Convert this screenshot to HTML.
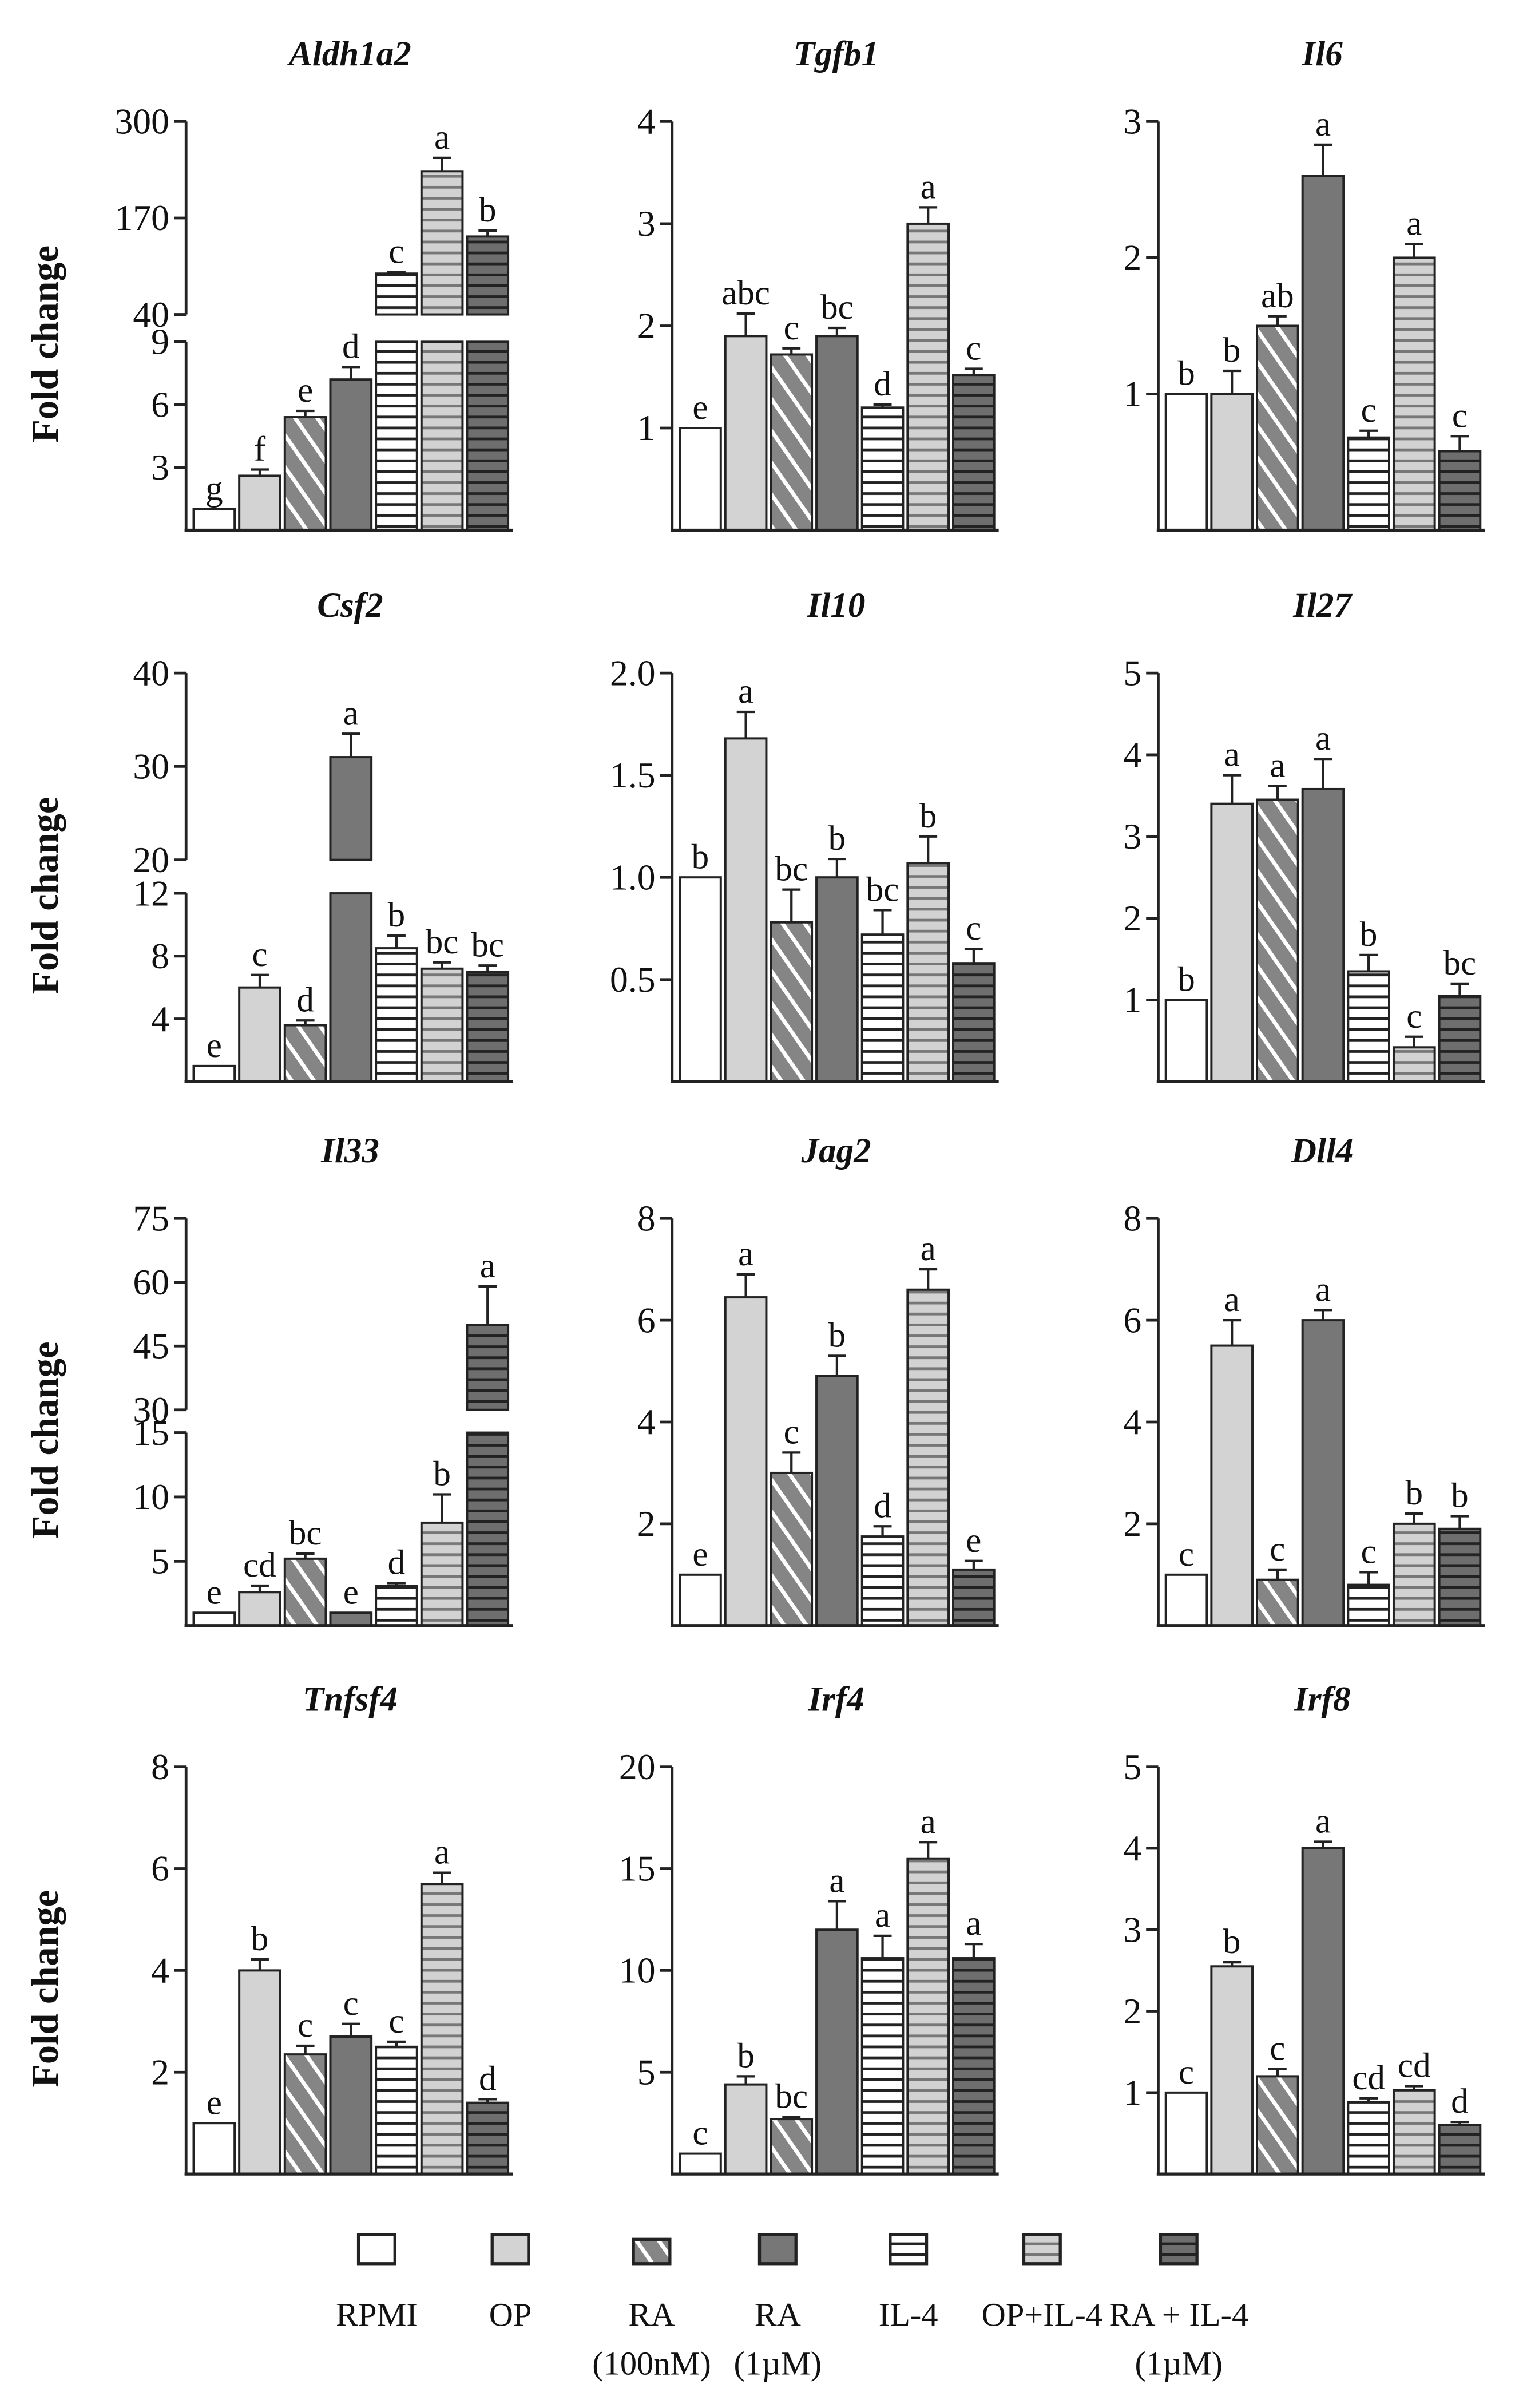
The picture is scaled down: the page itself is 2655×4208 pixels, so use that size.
<!DOCTYPE html>
<html><head><meta charset="utf-8"><style>
html,body{margin:0;padding:0;background:#fff;}
svg{display:block;}
svg text{font-family:"Liberation Serif","DejaVu Serif",serif !important;fill:#111;}
</style></head><body>
<svg id="fig" xmlns="http://www.w3.org/2000/svg" width="2655" height="4208" viewBox="0 0 1000 1585" preserveAspectRatio="none" font-family="Liberation Serif, serif">
<defs>
<pattern id="pDiag" patternUnits="userSpaceOnUse" width="12" height="12" patternTransform="rotate(-35)">
<rect width="12" height="12" fill="#858585"/><rect x="0" y="0" width="2.6" height="12" fill="#fff"/></pattern>
<pattern id="pIL4" patternUnits="userSpaceOnUse" width="10" height="7.2">
<rect width="10" height="7.2" fill="#fff"/><rect y="0" width="10" height="1.8" fill="#222"/></pattern>
<pattern id="pOPIL4" patternUnits="userSpaceOnUse" width="10" height="7.2">
<rect width="10" height="7.2" fill="#d2d2d2"/><rect y="0" width="10" height="1.8" fill="#777"/></pattern>
<pattern id="pRAIL4" patternUnits="userSpaceOnUse" width="10" height="7.2">
<rect width="10" height="7.2" fill="#6e6e6e"/><rect y="0" width="10" height="1.8" fill="#222"/></pattern>
</defs>
</svg>
<script>
// ---- data ----
const groups = ["RPMI","OP","RA (100nM)","RA (1µM)","IL-4","OP+IL-4","RA + IL-4 (1µM)"];
const aldhValues = [1.0, 2.6, 5.4, 7.2, 95, 233, 145];
const aldhErr = [1.0, 2.9, 5.7, 7.8, 97, 251, 153];
const aldhLetters = ["g","f","e","d","c","a","b"];
const tgfbValues = [1.0, 1.9, 1.72, 1.9, 1.2, 3.0, 1.52];
const tgfbErr = [1.0, 2.12, 1.78, 1.98, 1.23, 3.16, 1.58];
const tgfbLetters = ["e","abc","c","bc","d","a","c"];
const il6Values = [1.0, 1.0, 1.5, 2.6, 0.68, 2.0, 0.58];
const il6Err = [1.0, 1.17, 1.57, 2.83, 0.73, 2.1, 0.69];
const il6Letters = ["b","b","ab","a","c","a","c"];
const csf2Values = [1.0, 6.0, 3.6, 31, 8.5, 7.2, 7.0];
const csf2Err = [1.0, 6.8, 3.9, 33.5, 9.3, 7.6, 7.4];
const csf2Letters = ["e","c","d","a","b","bc","bc"];
const il10Values = [1.0, 1.68, 0.78, 1.0, 0.72, 1.07, 0.58];
const il10Err = [1.0, 1.81, 0.94, 1.09, 0.84, 1.2, 0.65];
const il10Letters = ["b","a","bc","b","bc","b","c"];
const il27Values = [1.0, 3.4, 3.45, 3.58, 1.35, 0.42, 1.05];
const il27Err = [1.0, 3.75, 3.62, 3.95, 1.55, 0.55, 1.2];
const il27Letters = ["b","a","a","a","b","c","bc"];
const il33Values = [1.0, 2.6, 5.2, 1.0, 3.1, 8.0, 50];
const il33Err = [1.0, 3.1, 5.6, 1.0, 3.3, 10.2, 59];
const il33Letters = ["e","cd","bc","e","d","b","a"];
const jag2Values = [1.0, 6.45, 3.0, 4.9, 1.75, 6.6, 1.1];
const jag2Err = [1.0, 6.9, 3.4, 5.3, 1.95, 7.0, 1.27];
const jag2Letters = ["e","a","c","b","d","a","e"];
const dll4Values = [1.0, 5.5, 0.9, 6.0, 0.8, 2.0, 1.9];
const dll4Err = [1.0, 6.0, 1.1, 6.2, 1.05, 2.2, 2.15];
const dll4Letters = ["c","a","c","a","c","b","b"];
const tnfValues = [1.0, 4.0, 2.35, 2.7, 2.5, 5.7, 1.4];
const tnfErr = [1.0, 4.22, 2.52, 2.95, 2.6, 5.92, 1.47];
const tnfLetters = ["e","b","c","c","c","a","d"];
const irf4Values = [1.0, 4.4, 2.7, 12.0, 10.6, 15.5, 10.6];
const irf4Err = [1.0, 4.8, 2.8, 13.4, 11.7, 16.3, 11.3];
const irf4Letters = ["c","b","bc","a","a","a","a"];
const irf8Values = [1.0, 2.55, 1.2, 4.0, 0.88, 1.03, 0.6];
const irf8Err = [1.0, 2.6, 1.29, 4.08, 0.93, 1.08, 0.64];
const irf8Letters = ["c","b","c","a","cd","cd","d"];
const aldhTicksLow = [3,6,9], aldhTicksHigh = [40,170,300];
const tgfbTicks = [1,2,3,4], il6Ticks = [1,2,3];
const csf2TicksLow = [4,8,12], csf2TicksHigh = [20,30,40];
const il10Ticks = [0.5,1.0,1.5,2.0], il10TickLabels = ["0.5","1.0","1.5","2.0"];
const il27Ticks = [1,2,3,4,5];
const il33TicksLow = [5,10,15], il33TicksHigh = [30,45,60,75];
const jag2Ticks = [2,4,6,8], dll4Ticks = [2,4,6,8], tnfTicks = [2,4,6,8];
const irf4Ticks = [5,10,15,20], irf8Ticks = [1,2,3,4,5];

// ---- layout ----
const FONT = '"Liberation Serif", serif';
const colX = [122.5, 442.5, 762.5];
const rowTop = [80, 443, 802, 1163];
const rowBot = [349, 712, 1070, 1431];
const fills = ["#fff","#d3d3d3","url(#pDiag)","#777","url(#pIL4)","url(#pOPIL4)","url(#pRAIL4)"];
const svg = document.getElementById('fig');
const NS = "http://www.w3.org/2000/svg";
function mk(tag, attrs, parent){
  const e = document.createElementNS(NS, tag);
  for (const k in attrs) e.setAttribute(k, attrs[k]);
  if (tag === 'text') e.setAttribute('font-family', FONT);
  (parent||svg).appendChild(e); return e;
}

const panels = [
 {t:"Aldh1a2",c:0,r:0,v:aldhValues,e:aldhErr,l:aldhLetters,segs:[{lo:0,hi:9,ticks:aldhTicksLow,yb:349,yt:225},{lo:40,hi:300,ticks:aldhTicksHigh,yb:207,yt:80}]},
 {t:"Tgfb1",c:1,r:0,v:tgfbValues,e:tgfbErr,l:tgfbLetters,segs:[{lo:0,hi:4,ticks:tgfbTicks}]},
 {t:"Il6",c:2,r:0,v:il6Values,e:il6Err,l:il6Letters,segs:[{lo:0,hi:3,ticks:il6Ticks}]},
 {t:"Csf2",c:0,r:1,v:csf2Values,e:csf2Err,l:csf2Letters,segs:[{lo:0,hi:12,ticks:csf2TicksLow,yb:712,yt:588},{lo:20,hi:40,ticks:csf2TicksHigh,yb:566,yt:443}]},
 {t:"Il10",c:1,r:1,v:il10Values,e:il10Err,l:il10Letters,segs:[{lo:0,hi:2,ticks:il10Ticks,labels:il10TickLabels}]},
 {t:"Il27",c:2,r:1,v:il27Values,e:il27Err,l:il27Letters,segs:[{lo:0,hi:5,ticks:il27Ticks}]},
 {t:"Il33",c:0,r:2,v:il33Values,e:il33Err,l:il33Letters,segs:[{lo:0,hi:15,ticks:il33TicksLow,yb:1070,yt:943},{lo:30,hi:75,ticks:il33TicksHigh,yb:928,yt:802}]},
 {t:"Jag2",c:1,r:2,v:jag2Values,e:jag2Err,l:jag2Letters,segs:[{lo:0,hi:8,ticks:jag2Ticks}]},
 {t:"Dll4",c:2,r:2,v:dll4Values,e:dll4Err,l:dll4Letters,segs:[{lo:0,hi:8,ticks:dll4Ticks}]},
 {t:"Tnfsf4",c:0,r:3,v:tnfValues,e:tnfErr,l:tnfLetters,segs:[{lo:0,hi:8,ticks:tnfTicks}]},
 {t:"Irf4",c:1,r:3,v:irf4Values,e:irf4Err,l:irf4Letters,segs:[{lo:0,hi:20,ticks:irf4Ticks}]},
 {t:"Irf8",c:2,r:3,v:irf8Values,e:irf8Err,l:irf8Letters,segs:[{lo:0,hi:5,ticks:irf8Ticks}]}
];

function segY(s, v){ return s.yb - (v - s.lo) / (s.hi - s.lo) * (s.yb - s.yt); }
function yOf(p, v){
  for (const s of p.segs) if (v >= s.lo && v <= s.hi) return segY(s, v);
  return segY(p.segs[p.segs.length-1], v);
}

panels.forEach(p => {
  const ax = colX[p.c];
  p.segs.forEach(s => { if (s.yb === undefined){ s.yb = rowBot[p.r]; s.yt = rowTop[p.r]; } });
  const g = mk('g', {});
  
  
  const title = mk('text', {x: ax + 108, y: rowTop[p.r] - 37, 'text-anchor':'middle', 'font-size':23, 'font-weight':'bold', 'font-style':'italic'}, g);
  title.textContent = p.t;
  
  
  p.segs.forEach(s => {
    const al = mk('line', {x1:ax, x2:ax, y1:s.yb, y2:s.yt, stroke:'#222', 'stroke-width':1.8}, g);
    
    
    s.ticks.forEach((t, i) => {
      const y = segY(s, t);
      mk('line', {x1:ax-8, x2:ax, y1:y, y2:y, stroke:'#222', 'stroke-width':1.8}, g);
      const tl = mk('text', {x: ax-11, y: y+8, 'text-anchor':'end', 'font-size':24}, g);
      tl.textContent = s.labels ? s.labels[i] : String(t);
      
      
    });
  });
  p.v.forEach((v, i) => {
    const x = ax + 5 + 30 * i, w = 27;
    const base = rowBot[p.r];
    if (p.segs.length > 1 && v > p.segs[0].hi) {
      const lo = p.segs[0], hi = p.segs[1];
      const b1 = mk('rect', {x:x, y:lo.yt, width:w, height:base-lo.yt, fill:fills[i], stroke:'#222', 'stroke-width':1.5}, g);
      
      
      const yt = yOf(p, v);
      const b2 = mk('rect', {x:x, y:yt, width:w, height:hi.yb-yt, fill:fills[i], stroke:'#222', 'stroke-width':1.5}, g);
      
      
    } else {
      const yt = yOf(p, v);
      const b = mk('rect', {x:x, y:yt, width:w, height:base-yt, fill:fills[i], stroke:'#222', 'stroke-width':1.5}, g);
      
      
    }
    const yv = yOf(p, v), ye = yOf(p, p.e[i]), cx = x + w/2;
    if (ye < yv - 0.5) {
      mk('line', {x1:cx, x2:cx, y1:yv, y2:ye, stroke:'#222', 'stroke-width':1.6}, g);
      mk('line', {x1:cx-6, x2:cx+6, y1:ye, y2:ye, stroke:'#222', 'stroke-width':1.6}, g);
    }
    const lt = mk('text', {x:cx, y:ye-6, 'text-anchor':'middle', 'font-size':23}, g);
    lt.textContent = p.l[i];
    
    
  });
  const bl = mk('line', {x1:ax-1, x2:ax+215, y1:rowBot[p.r], y2:rowBot[p.r], stroke:'#222', 'stroke-width':2}, g);
  
  
  if (p.c === 0) {
    const cy = (rowTop[p.r] + rowBot[p.r]) / 2 + 12;
    const yl = mk('text', {x:38, y:cy, 'text-anchor':'middle', 'font-size':25, 'font-weight':'bold', transform:'rotate(-90 38 '+cy+')'}, g);
    yl.textContent = 'Fold change';
    
    
  }
});

const legX = [248, 336, 429, 512, 598, 686, 776];
const legL1 = ["RPMI","OP","RA","RA","IL-4","OP+IL-4","RA + IL-4"];
const legL2 = ["","","(100nM)","(1µM)","","","(1µM)"];
const lg = mk('g', {});


legX.forEach((x, i) => {
  const e = mk('g', {}, lg);
  
  
  mk('rect', {x:x-12, y:i===2?1474:1471, width:24, height:i===2?16:19, fill:fills[i], stroke:'#222', 'stroke-width':2}, e);
  const t1 = mk('text', {x:x, y:1531, 'text-anchor':'middle', 'font-size':22}, e);
  t1.textContent = legL1[i];
  if (legL2[i]) {
    const t2 = mk('text', {x:x, y:1563, 'text-anchor':'middle', 'font-size':22}, e);
    t2.textContent = legL2[i];
  }
});
</script>
</body></html>
